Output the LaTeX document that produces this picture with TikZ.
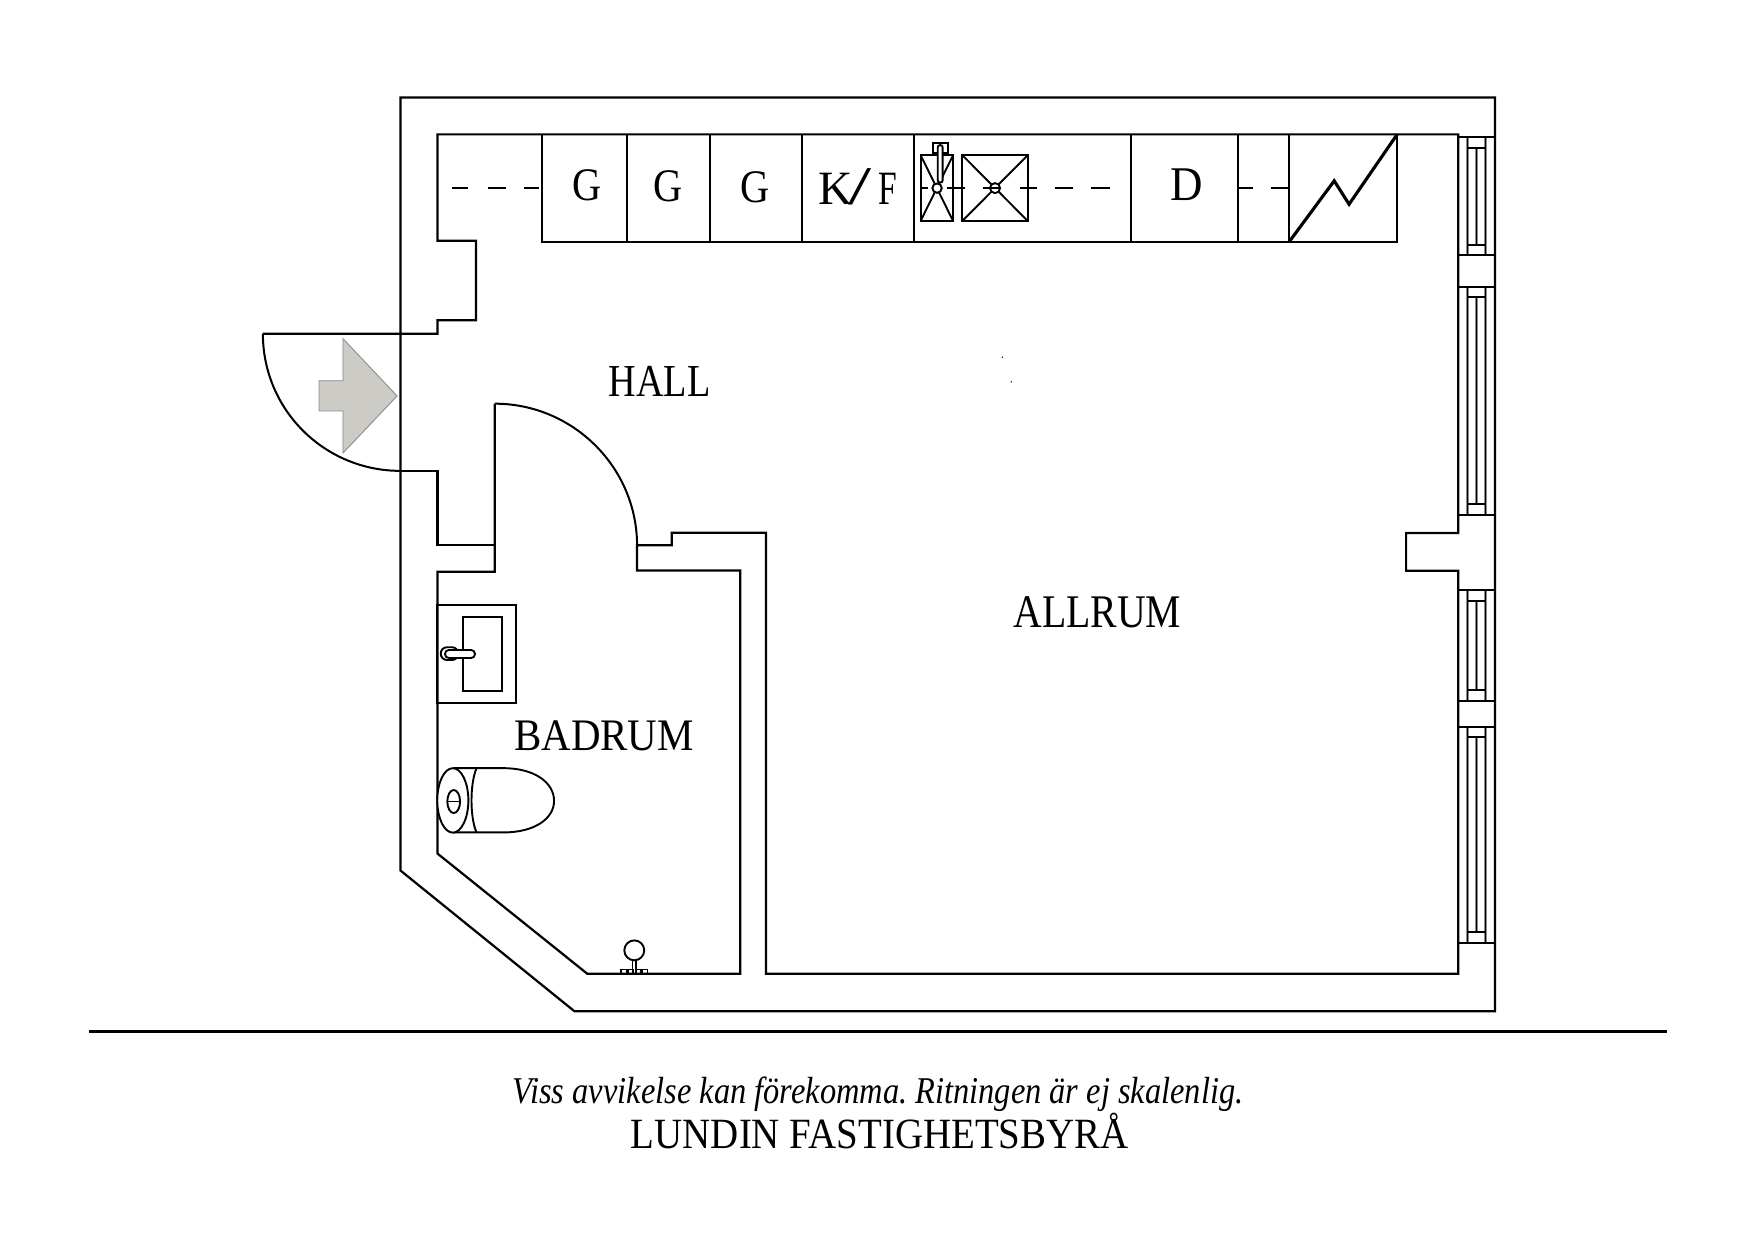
\documentclass[tikz,border=0pt]{standalone}
\usepackage{fontspec}
\usepackage{graphicx}
\setmainfont{Liberation Serif}
\frenchspacing
\tikzset{
  wall/.style={draw=black,line width=1pt,line join=miter},
  thin wall/.style={draw=black,line width=.9pt},
  fixture/.style={draw=black,line width=.85pt},
  rail/.style={draw=black!45,line width=1.1pt},
  railcore/.style={draw=black,line width=.5pt},
  dashline/.style={draw=black,line width=.9pt},
  label/.style={inner sep=0pt,outer sep=0pt,text=black}
}
\newcommand{\fittext}[3]{\resizebox*{#1pt}{#2pt}{\fontsize{20}{20}\selectfont #3}}
\begin{document}
\begin{tikzpicture}[x=.5pt,y=-.5005pt]
\useasboundingbox[fill=white] (0,0) rectangle (1568,1107.46);

% entrance arrow
\draw[draw=black!45,line width=.4pt,fill=black!24!white!97!yellow]
  (355,353.6) -- (306.6,302.4) -- (306.6,340) -- (285.2,340) -- (285.2,367)
  -- (306.6,367) -- (306.6,404.6) -- cycle;

% outer wall
\draw[wall] (358,777.4) -- (358,87) -- (1336.5,87) -- (1336.5,903) -- (513.4,903) -- cycle;

% inner outline with entrance door
\draw[wall] (235,298) -- (391,298) -- (391,286) -- (425.6,286) -- (425.6,215) -- (391,215)
  -- (391,120) -- (1303.5,120) -- (1303.5,476) -- (1257,476) -- (1257,509.6)
  -- (1303.5,509.6) -- (1303.5,869.6) -- (684.8,869.6) -- (684.8,475.8) -- (600.5,475.8)
  -- (600.5,487) -- (569.5,487) -- (569.5,509.5) -- (661.7,509.5) -- (661.7,869.6)
  -- (525,869.6) -- (391,762.2) -- (391,510.5) -- (442.3,510.5) -- (442.3,360.5);
\draw[wall] (442.3,487) -- (391,487) -- (391,420.5) -- (358,420.5);
% door swings
\draw[thin wall] (235,298) .. controls (235,366) and (290,420.5) .. (358,420.5);
\draw[thin wall] (442.3,360.5) .. controls (512.4,360.5) and (569.5,417.6) .. (569.5,487);

% windows
\foreach \a/\b in {122.5/228,256/459.5,527/626,649/842}{
  \draw[rail] (1312,\a) -- (1312,\b) (1328,\a) -- (1328,\b);
  \draw[rail] (1320,\a+9.5) -- (1320,\b-9.5);
  \draw[railcore] (1312,\a) -- (1312,\b) (1328,\a) -- (1328,\b);
  \draw[railcore] (1320,\a+9.5) -- (1320,\b-9.5);
  \draw[thin wall] (1303.5,\a) -- (1336.5,\a) (1303.5,\b) -- (1336.5,\b);
  \draw[thin wall] (1312,\a+9.5) -- (1328,\a+9.5) (1312,\b-9.5) -- (1328,\b-9.5);
}

% counter
\draw[wall] (484.5,120) -- (484.5,216) -- (1249,216) -- (1249,120);
\foreach \x in {560.5,634.7,716.8,816.7,1010.7,1106.8,1152.4}{
  \draw[thin wall] (\x,120) -- (\x,216);
}
% zigzag
\draw[draw=black,line width=1.4pt,line join=miter] (1152.4,216) -- (1192.7,161.5) -- (1206,182.4) -- (1249,120);

% dashes
\foreach \a/\b in {404/418,436/452,468.5/482,823/830,847/862.7,879/885,911.4/926.8,943/959,975/992,1107/1120,1136/1151.6}{
  \draw[dashline] (\a,167.8) -- (\b,167.8);
}

% hob fixtures
\draw[fixture] (823,138.6) rectangle (852,197.3);
\draw[fixture] (860.3,138.6) rectangle (918.7,197.3);
\draw[fixture] (823,138.6) -- (852,197.3) (852,138.6) -- (823,197.3);
\draw[fixture] (860.3,138.6) -- (918.7,197.3) (918.7,138.6) -- (860.3,197.3);
\draw[fixture,fill=white] (837.7,168) circle[radius=2.1pt];
\draw[fixture,fill=white] (889.5,168) circle[radius=2.25pt];
\draw[dashline,line width=.6pt] (885,168) -- (894,168);
\draw[fixture,fill=white] (833.8,127.6) rectangle (847.2,136.5);
\draw[fixture,fill=white,rounded corners=1pt] (838.3,129.6) rectangle (842.7,163);

% sink
\draw[fixture] (391,540) rectangle (461,628);
\draw[fixture] (414.2,550.7) rectangle (449,616.8);
\draw[fixture,fill=white,rounded corners=2.8pt] (394,578) rectangle (409.7,589.4);
\draw[fixture,fill=white,rounded corners=1.7pt] (397.8,580.5) rectangle (424.6,587.6);

% toilet
\draw[fixture] (405.3,686) -- (450,686) .. controls (478,686) and (495.3,699) .. (495.3,715.2)
  .. controls (495.3,731) and (478,743.4) .. (450,743.4) -- (405.3,743.4);
\draw[fixture] (426,686) .. controls (420,700) and (420,730) .. (426,743.4);
\draw[fixture,fill=white] (404.8,714.8) ellipse[x radius=6.95pt,y radius=14.4pt];
\draw[fixture] (405.6,715.8) ellipse[x radius=2.85pt,y radius=5.15pt];
\draw[fixture] (399.9,715.8) -- (411.3,715.8);

% floor drain
\draw[fixture] (567,848.7) circle[radius=4.45pt];
\draw[fixture,line width=.6pt] (565.6,856.8) -- (565.6,869.6) (568.6,856.8) -- (568.6,869.6);
\foreach \a/\b in {555.2/560.6,562.1/566.3,568.6/572.8,574/578.8}{
  \draw[fixture,line width=.55pt] (\a,869.6) -- (\a,865.7) -- (\b,865.7) -- (\b,869.6);
}

% specks
\fill (896,319) circle[radius=.35pt];
\fill (904,341) circle[radius=.35pt];

% baseline
\draw[draw=black,line width=1.1pt] (80,921) -- (1490,921);

% labels
\node[label] (g1) at (525,165.4) {\fittext{13}{14}{G}};
\node[label] (g2) at (597,166) {\fittext{13}{14}{G}};
\node[label] (g3) at (675,167) {\fittext{13}{14}{G}};
\node[label] (kf) at (766.85,166.7) {\hbox{\fittext{15.35}{14}{K}\kern-2.05pt\fittext{10.35}{16.3}{/}\kern2.85pt\fittext{8.35}{14}{F}}};
\node[label] (d) at (1060.7,165) {\fittext{14.5}{14.2}{D}};
\node[label] (hall) at (589.5,340.5) {\fittext{45.5}{13.5}{HALL}};
\node[label] (allrum) at (981,547) {\fittext{75}{14}{ALLRUM}};
\node[label] (badrum) at (540,657) {\fittext{80.3}{13.5}{BADRUM}};
\node[label] (note) at (785,977.5) {\fittext{326.5}{15.5}{\itshape Viss avvikelse kan förekomma. Ritningen är ej skalenlig.}};
\node[label] (firm) at (786.5,1010) {\fittext{222.5}{16}{LUNDIN FASTIGHETSBYRÅ}};
\end{tikzpicture}
\end{document}
